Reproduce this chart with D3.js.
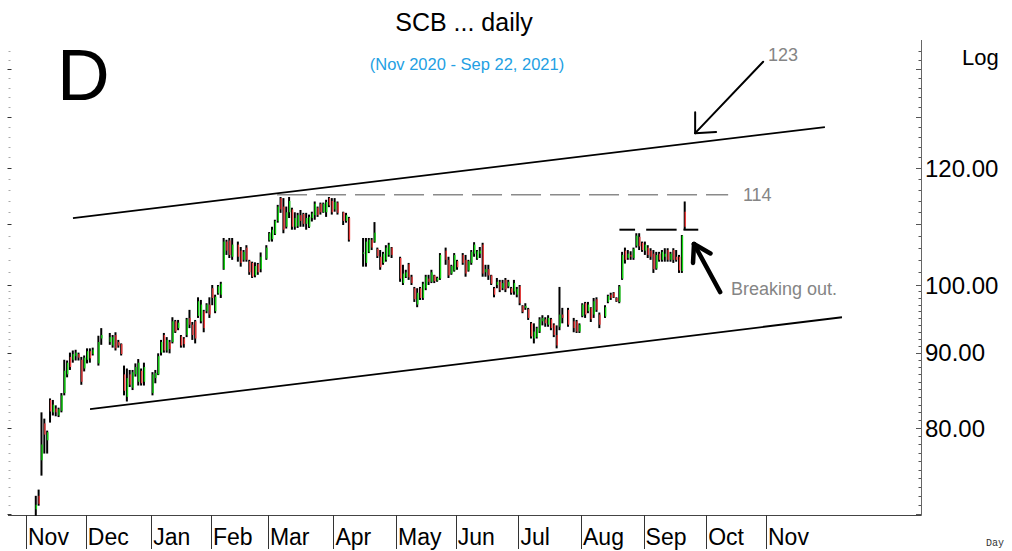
<!DOCTYPE html>
<html><head><meta charset="utf-8">
<script src="https://cdn.jsdelivr.net/npm/d3@7"></script>
<style>body{margin:0;background:#fff}svg{display:block}</style>
</head><body>
<svg id="c" width="1012" height="551"></svg>
<script>
// ---------- DATA ----------
const firstDay = "2020-11-06", lastDay = "2021-09-22";
const holidays = ["2020-12-07","2020-12-10","2020-12-11","2020-12-31","2021-01-01","2021-02-12","2021-02-26",
  "2021-04-06","2021-04-12","2021-04-13","2021-04-14","2021-04-15","2021-05-03","2021-05-04","2021-05-26",
  "2021-06-03","2021-07-26","2021-07-28","2021-08-12"];
const opens = [
 70.5,72.0,76.1,80.6,78.5,83.6,82.0,82.5,81.6,82.2,84.5,87.0,89.4,89.0,89.5,89.8,89.0,
 87.8,89.0,90.2,89.8,88.5,92.0,91.5,91.0,92.5,91.5,91.2,87.0,84.0,87.0,85.2,87.0,86.0,87.5,86.0,
 84.5,86.5,87.0,90.0,92.5,90.3,91.5,91.5,94.5,93.5,92.3,92.0,92.5,95.0,94.0,94.5,95.3,94.5,96.0,96.0,
 97.0,99.5,96.0,98.7,98.5,102.5,107.0,107.2,104.5,106.5,105.5,104.0,106.0,103.8,103.5,101.5,103.3,102.5,
 104.2,107.2,107.4,108.3,110.5,114.5,113.0,109.5,112.0,112.5,109.5,109.6,111.5,111.7,110.0,109.5,111.0,111.5,112.8,113.5,112.0,112.0,114.5,
 114.0,112.5,113.7,112.0,110.5,111.0,105.0,103.5,105.3,107.3,107.0,105.8,104.5,103.5,104.0,104.8,106.0,
 104.3,100.3,101.3,103.3,101.3,99.5,97.0,99.5,98.0,99.5,101.0,100.5,101.5,100.7,101.0,105.5,104.0,101.8,
 102.3,103.8,104.8,104.0,102.3,103.5,105.0,104.2,105.0,106.5,102.0,102.5,101.5,99.5,100.0,100.5,99.5,100.8,99.8,99.5,99.0,
 98.5,99.8,96.8,96.5,96.3,94.2,92.0,92.2,93.0,94.5,94.8,94.0,94.8,94.0,92.5,93.7,95.5,96.2,94.5,94.5,
 93.0,95.3,97.2,96.0,96.5,95.5,97.8,95.5,95.2,97.4,98.5,98.8,98.0,97.4,101.0,105.5,104.3,104.8,104.3,106.3,107.8,
 106.8,105.5,106.0,105.5,105.0,102.6,105.0,104.0,104.5,105.6,104.0,105.6,104.5,104.5,102.2,112.1];
const highs = [
 72.0,72.7,82.0,81.2,79.7,83.8,83.6,82.9,82.6,84.5,89.0,88.9,90.0,90.3,90.4,90.0,89.4,
 89.6,90.6,90.6,90.7,92.4,93.5,92.8,92.5,92.9,91.8,91.3,88.2,87.8,87.6,87.6,88.5,89.1,87.8,88.6,
 87.3,87.6,89.9,91.8,92.8,92.2,91.8,95.1,94.7,94.7,92.5,92.2,95.0,96.2,94.4,94.7,98.1,97.7,96.2,97.2,
 98.1,100.0,98.5,100.0,100.5,107.6,107.3,107.6,107.6,107.0,106.1,105.6,106.4,104.0,103.7,103.6,103.5,105.2,
 106.4,108.6,109.5,110.7,113.3,114.7,114.5,113.0,114.7,112.8,112.0,111.9,112.4,111.9,111.9,111.6,112.1,113.9,113.0,113.7,113.7,114.2,114.7,
 114.5,114.5,113.9,112.1,111.9,111.2,107.6,107.6,107.6,107.6,110.3,106.0,105.6,105.3,106.4,106.8,106.1,
 104.5,103.2,102.4,103.5,101.6,99.7,99.5,99.7,100.5,101.6,101.6,102.4,101.6,101.3,105.1,106.0,104.5,103.2,
 105.1,104.0,105.1,104.8,104.0,105.6,106.9,105.6,106.1,106.8,103.2,103.2,101.6,99.7,101.1,100.8,100.8,101.1,100.8,99.7,100.8,
 99.7,100.0,96.9,97.2,96.5,94.4,94.2,93.7,95.1,95.4,95.1,95.4,95.0,94.2,93.9,99.7,96.5,96.5,95.0,94.7,
 94.2,97.2,97.4,97.4,96.6,98.0,98.1,95.8,96.9,98.5,98.8,98.9,98.1,100.0,105.3,106.0,105.6,105.4,106.0,108.4,108.4,
 107.0,107.0,106.4,105.9,105.6,105.3,105.3,105.6,105.9,105.9,105.3,105.9,105.6,104.8,108.1,113.9];
const lows = [
 69.8,70.9,74.3,76.9,76.9,80.7,81.6,81.5,81.4,82.0,84.2,86.6,87.6,88.6,88.9,88.9,85.6,
 87.4,88.5,88.6,89.6,88.2,91.1,91.1,90.7,90.3,90.7,89.6,84.2,83.4,85.3,84.9,86.7,85.5,85.5,85.5,
 84.2,85.8,86.9,89.6,90.0,90.0,89.9,91.3,92.8,93.2,90.7,90.7,92.2,93.5,91.8,91.3,95.0,94.2,92.9,95.7,
 95.0,96.9,95.7,98.5,98.0,102.4,104.8,104.3,104.0,103.7,102.9,103.7,103.7,101.6,101.1,101.2,101.6,102.0,
 104.0,107.0,107.0,108.1,110.2,111.9,108.4,109.2,111.0,109.0,109.0,109.3,109.5,109.5,109.0,109.3,110.4,110.7,111.2,111.6,111.9,111.2,112.9,
 111.6,112.1,111.6,109.8,110.2,107.0,102.9,102.9,105.1,105.6,106.8,104.3,102.4,103.2,103.7,104.5,104.3,
 100.5,100.0,101.1,100.8,100.0,97.4,96.6,97.7,97.7,99.2,100.0,100.3,100.3,100.5,100.8,103.2,101.1,101.6,
 102.1,102.4,103.2,101.3,102.1,103.2,104.5,104.0,104.3,101.3,101.3,100.8,100.0,98.1,99.5,98.9,99.2,98.9,99.5,98.5,98.5,
 98.1,96.9,95.7,96.2,94.7,92.0,91.3,92.0,92.8,93.9,93.7,93.7,93.2,92.2,90.6,93.2,94.2,93.7,92.9,92.8,
 92.8,95.1,95.0,95.7,94.4,95.0,95.9,93.5,95.0,97.2,97.7,98.0,97.4,97.2,100.8,103.4,104.0,104.0,104.0,106.0,105.6,
 105.3,104.8,104.3,104.0,101.9,102.4,103.7,103.7,103.7,103.7,103.7,103.5,103.7,101.9,101.9,109.0];
const closes = [
 71.0,71.1,78.0,79.2,79.5,82.1,83.0,82.0,82.4,84.2,87.5,88.6,88.0,89.8,90.0,89.3,86.0,
 89.3,90.2,89.2,90.4,91.5,92.5,92.2,92.2,90.6,91.0,89.8,84.8,86.5,85.6,87.3,88.0,88.6,85.8,88.0,
 87.0,87.2,89.5,91.5,90.3,91.8,90.5,94.5,93.0,94.3,91.0,91.2,94.8,94.0,92.5,92.0,97.5,97.0,93.5,97.0,
 95.5,98.0,98.2,99.8,100.2,107.0,105.5,104.8,106.5,104.5,103.5,105.3,104.0,102.0,101.3,103.0,102.0,104.5,
 106.0,108.4,109.0,110.5,113.0,112.5,109.0,112.0,114.0,109.5,111.0,111.5,110.5,110.0,111.0,111.2,111.8,113.5,111.5,112.0,113.5,113.8,113.2,
 112.0,113.8,111.9,110.5,111.5,107.3,105.2,107.0,107.3,106.0,108.5,104.6,102.8,105.0,106.0,106.5,104.8,
 101.0,101.8,102.0,101.2,100.3,97.8,98.8,98.0,100.2,101.3,100.5,102.0,100.6,101.1,104.8,104.0,101.5,103.0,
 104.8,102.8,103.5,101.8,103.8,105.3,106.5,105.4,105.5,101.8,102.5,101.5,100.2,98.5,100.5,99.2,100.3,99.3,100.5,98.8,100.3,
 99.4,97.2,95.9,96.8,95.0,92.3,93.0,93.5,94.8,95.0,94.2,95.0,93.5,92.5,91.0,95.5,95.0,94.0,93.5,93.0,
 94.0,97.0,95.5,97.0,94.8,97.5,96.2,94.0,96.6,98.3,98.0,98.1,97.5,99.8,104.8,104.0,105.0,104.5,105.8,108.0,106.2,
 105.6,106.5,104.8,104.5,102.5,104.8,104.0,105.3,105.0,104.0,105.0,104.0,104.0,102.3,108.0,109.5];

const monthLabels = ["Nov","Dec","Jan","Feb","Mar","Apr","May","Jun","Jul","Aug","Sep","Oct","Nov"];
const monthStarts = ["2020-11-02","2020-12-01","2021-01-01","2021-02-01","2021-03-01","2021-04-01","2021-05-03",
  "2021-06-01","2021-07-01","2021-08-02","2021-09-01","2021-10-01","2021-11-01"];
const yTickLabels = [120, 100, 90, 80];

// annotations: [weekday index, price]
const channelUpper = [[16.5, 111.0], [280.7, 127.9]];
const channelLower = [[22.5, 82.4], [286.7, 95.1]];
const resistanceLine = [[88.2, 115.1], [246.7, 115.1]];
const breakoutSegments = [[[208.5,109.0],[214.0,109.0]], [[217.9,109.0],[228.6,109.0]], [[231.0,109.0],[236.2,109.0]]];
const arrowThin = [[259.0, 141.6], [235.1, 126.7]];
const arrowThick = [[243.9, 98.9], [234.7, 106.6]];
const notes = [
  {text:"123", at:[260.7, 143.3]},
  {text:"114", at:[251.9, 115.1]},
  {text:"Breaking out.", at:[247.7, 99.5]}
];

// ---------- CALENDAR ----------
const parse = d3.utcParse("%Y-%m-%d"), fmt = d3.utcFormat("%Y-%m-%d");
const origin = parse("2020-11-02");
function weekdayIndex(d){ let n=0; for(let t=new Date(origin); t<d; t=d3.utcDay.offset(t,1)){const wd=t.getUTCDay(); if(wd>0&&wd<6) n++;} return n; }
const hol = new Set(holidays);
const tradingDays = [];
for (let t=parse(firstDay); t<=parse(lastDay); t=d3.utcDay.offset(t,1)) {
  const wd=t.getUTCDay(); if (wd>0 && wd<6 && !hol.has(fmt(t))) tradingDays.push(t);
}
const bars = tradingDays.map((d,i)=>({w:weekdayIndex(d), o:opens[i], h:highs[i], l:lows[i], c:closes[i]})).filter(b=>b.o!=null);

// ---------- SCALES ----------
const x = d3.scaleLinear().domain([0,260]).range([26,766]);
const y = d3.scaleLog().domain([100,120]).range([285,168]);
const svg = d3.select("#c");
const FONT = "'Liberation Sans', Arial, sans-serif";

// axes frame
svg.append("line").attr("x1",8).attr("x2",921.5).attr("y1",515.5).attr("y2",515.5).attr("stroke","#444").attr("stroke-width",1.2);
svg.append("line").attr("x1",921.5).attr("x2",921.5).attr("y1",40).attr("y2",515.5).attr("stroke","#666").attr("stroke-width",1);

// tick values (minor ticks)
const tickVals = [];
for (let v=70; v<100; v+=1) tickVals.push(v);
for (let v=100; v<=146; v+=2) tickVals.push(v);
const ticks = tickVals.filter(v=>y(v)>=44 && y(v)<=514);
svg.append("g").selectAll("line").data(ticks).join("line")
  .attr("x1",d=> d%10===0 ? 7.5 : 8.5).attr("x2",d=> d%10===0 ? 11.5 : 10.5)
  .attr("y1",d=>Math.round(y(d))+0.5).attr("y2",d=>Math.round(y(d))+0.5)
  .attr("stroke",d=> d%10===0 ? "#333" : "#aaa").attr("stroke-width",1);
svg.append("g").selectAll("line").data(ticks).join("line")
  .attr("x1",d=> d%10===0 ? 916 : 918.5).attr("x2",921)
  .attr("y1",d=>Math.round(y(d))+0.5).attr("y2",d=>Math.round(y(d))+0.5)
  .attr("stroke","#555").attr("stroke-width",1);

svg.append("g").selectAll("text").data(yTickLabels).join("text")
  .attr("x",925).attr("y",d=>y(d)).attr("dy","0.36em")
  .attr("font-family",FONT).attr("font-size",24).attr("fill","#000")
  .text(d=>d3.format(".2f")(d));

// month separators & labels
const months = monthStarts.map((s,i)=>({w:weekdayIndex(parse(s)), label:monthLabels[i]}));
svg.append("g").selectAll("line").data(months).join("line")
  .attr("x1",d=>Math.round(x(d.w))+0.5).attr("x2",d=>Math.round(x(d.w))+0.5)
  .attr("y1",515).attr("y2",549).attr("stroke","#333").attr("stroke-width",1);
svg.append("g").selectAll("text").data(months).join("text")
  .attr("x",d=>x(d.w)+2).attr("y",545)
  .attr("font-family",FONT).attr("font-size",23).attr("fill","#000")
  .text(d=>d.label);

// bars
const gb = svg.append("g");
gb.selectAll("rect.hl").data(bars).join("rect").attr("class","hl")
  .attr("x",d=>x(d.w)-2.6).attr("width",2)
  .attr("y",d=>y(d.h)).attr("height",d=>Math.max(1,y(d.l)-y(d.h)))
  .attr("fill","#000");
gb.selectAll("rect.oc").data(bars.filter(d=>d.o!==d.c)).join("rect").attr("class","oc")
  .attr("x",d=>x(d.w)-1.7).attr("width",1.4)
  .attr("y",d=>y(Math.max(d.o,d.c))).attr("height",d=>Math.max(1,Math.abs(y(d.o)-y(d.c))))
  .attr("fill",d=>d.c>d.o ? "#12d412" : "#ea3b3b");

// annotations
const pt = p => [x(p[0]), y(p[1])];
const seg = (g, a, b) => g.append("line").attr("x1",pt(a)[0]).attr("y1",pt(a)[1]).attr("x2",pt(b)[0]).attr("y2",pt(b)[1]);
seg(svg, channelUpper[0], channelUpper[1]).attr("stroke","#000").attr("stroke-width",1.8);
seg(svg, channelLower[0], channelLower[1]).attr("stroke","#000").attr("stroke-width",1.8);
seg(svg, resistanceLine[0], resistanceLine[1]).attr("stroke","#8a8a8a").attr("stroke-width",1.6).attr("stroke-dasharray","30,9");
breakoutSegments.forEach(s=>seg(svg, s[0], s[1]).attr("stroke","#000").attr("stroke-width",2));

function arrow(def, width, len, ang){
  const [t0,t1] = [pt(def[0]), pt(def[1])];
  const a = Math.atan2(t0[1]-t1[1], t0[0]-t1[0]);
  const g = svg.append("g").attr("stroke","#000").attr("stroke-width",width).attr("stroke-linecap","round").attr("fill","none");
  g.append("line").attr("x1",t0[0]).attr("y1",t0[1]).attr("x2",t1[0]).attr("y2",t1[1]);
  [ang,-ang].forEach(s=>g.append("line").attr("x1",t1[0]).attr("y1",t1[1])
     .attr("x2",t1[0]+len*Math.cos(a+s)).attr("y2",t1[1]+len*Math.sin(a+s)));
}
arrow(arrowThin, 2, 21, 0.76);
arrow(arrowThick, 4.5, 19, 0.55);

svg.append("g").selectAll("text").data(notes).join("text")
  .attr("x",d=>x(d.at[0])).attr("y",d=>y(d.at[1])).attr("dy","0.36em")
  .attr("font-family",FONT).attr("font-size",18).attr("fill","#858585").text(d=>d.text);

// titles
svg.append("text").attr("x",464).attr("y",31).attr("text-anchor","middle").attr("font-family",FONT).attr("font-size",25).attr("fill","#000").text("SCB ... daily");
svg.append("text").attr("x",467).attr("y",70).attr("text-anchor","middle").attr("font-family",FONT).attr("font-size",16.5).attr("fill","#239fe3").text("(Nov 2020 - Sep 22, 2021)");
svg.append("text").attr("x",57).attr("y",100).attr("font-family",FONT).attr("font-size",73).attr("fill","#000").text("D");
svg.append("text").attr("x",962).attr("y",65).attr("font-family",FONT).attr("font-size",22).attr("fill","#000").text("Log");
svg.append("text").attr("x",986).attr("y",546).attr("font-family","'Liberation Mono', monospace").attr("font-size",10).attr("fill","#333").text("Day");
</script>
</body></html>
